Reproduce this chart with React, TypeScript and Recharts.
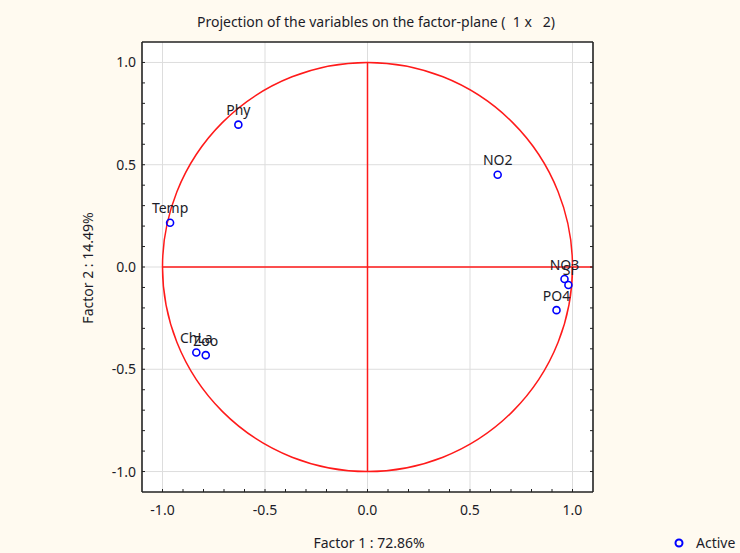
import React from 'react';
import {
  ScatterChart,
  Scatter,
  XAxis,
  YAxis,
  CartesianGrid,
  ReferenceLine,
  ReferenceArea,
  LabelList,
} from 'recharts';

// variable names and their coordinates on the factor plane
const names = ['Phy', 'NO2', 'Temp', 'NO3', 'Si', 'PO4', 'ChLa', 'Zoo'];
const factor1 = [-0.63, 0.635, -0.963, 0.961, 0.98, 0.922, -0.835, -0.789];
const factor2 = [0.696, 0.451, 0.216, -0.059, -0.088, -0.211, -0.418, -0.431];

const axisTicks = [
  -1.0, -0.9, -0.8, -0.7, -0.6, -0.5, -0.4, -0.3, -0.2, -0.1, 0.0,
  0.1, 0.2, 0.3, 0.4, 0.5, 0.6, 0.7, 0.8, 0.9, 1.0,
];
const majorTicks = [-1.0, -0.5, 0.0, 0.5, 1.0];

const points = names.map((name, i) => ({ name, x: factor1[i], y: factor2[i] }));

const FONT = '"Noto Sans", "Open Sans", sans-serif';
const BG = '#fffaf0';
const RED = '#ff1a1a';
const TEXT = '#1c1c28';

const fmtMajor = (v: number) =>
  majorTicks.some((m) => Math.abs(m - v) < 1e-6) ? v.toFixed(1) : '';
const blank = () => '';

const UnitCircle = (props: any) => {
  const { x, y, width, height } = props;
  return (
    <ellipse
      cx={x + width / 2}
      cy={y + height / 2}
      rx={width / 2}
      ry={height / 2}
      fill="none"
      stroke={RED}
      strokeWidth={1.5}
    />
  );
};

const Ring = (props: any) => {
  const { cx, cy } = props;
  return <circle cx={cx} cy={cy} r={3.5} fill="none" stroke="#0000ff" strokeWidth={1.6} />;
};

export default function App() {
  const tickStyle = { fontSize: 14, fill: TEXT, fontFamily: FONT };
  const frame = { stroke: '#222', strokeWidth: 1.6 };
  return (
    <div
      style={{
        position: 'absolute',
        left: 0,
        top: 0,
        width: 740,
        height: 553,
        background: BG,
        fontFamily: FONT,
      }}
    >
      <ScatterChart
        width={740}
        height={553}
        margin={{ top: 37, right: 142, bottom: 21, left: 82 }}
      >
        <CartesianGrid
          stroke="#dddddd"
          horizontalValues={majorTicks}
          verticalValues={majorTicks}
          fill="#ffffff"
        />
        <XAxis
          type="number"
          dataKey="x"
          domain={[-1.1, 1.1]}
          ticks={axisTicks}
          interval={0}
          tickFormatter={fmtMajor}
          tickSize={-3}
          tickMargin={16}
          height={40}
          tick={tickStyle}
          stroke="#222"
          axisLine={frame}
          allowDataOverflow
        />
        <XAxis
          xAxisId="top"
          orientation="top"
          type="number"
          domain={[-1.1, 1.1]}
          ticks={axisTicks}
          interval={0}
          tickFormatter={blank}
          tickSize={-3}
          height={5}
          stroke="#222"
          axisLine={frame}
          allowDataOverflow
        />
        <YAxis
          type="number"
          dataKey="y"
          domain={[-1.1, 1.1]}
          ticks={axisTicks}
          interval={0}
          tickFormatter={fmtMajor}
          tickSize={-3}
          tickMargin={9}
          width={60}
          tick={tickStyle}
          stroke="#222"
          axisLine={frame}
          allowDataOverflow
        />
        <YAxis
          yAxisId="right"
          orientation="right"
          type="number"
          domain={[-1.1, 1.1]}
          ticks={axisTicks}
          interval={0}
          tickFormatter={blank}
          tickSize={-3}
          width={5}
          stroke="#222"
          axisLine={frame}
          allowDataOverflow
        />
        <ReferenceArea x1={-1} x2={1} y1={-1} y2={1} shape={UnitCircle} />
        <ReferenceLine
          segment={[
            { x: -1, y: 0 },
            { x: 1.1, y: 0 },
          ]}
          stroke={RED}
          strokeWidth={1.5}
        />
        <ReferenceLine
          segment={[
            { x: 0, y: -1 },
            { x: 0, y: 1 },
          ]}
          stroke={RED}
          strokeWidth={1.5}
        />
        <Scatter data={points} shape={Ring} isAnimationActive={false}>
          <LabelList
            dataKey="name"
            position="top"
            offset={5}
            style={{ fontSize: 14, fill: TEXT, fontFamily: FONT }}
          />
        </Scatter>
      </ScatterChart>
      <svg
        width={740}
        height={553}
        style={{ position: 'absolute', left: 0, top: 0, pointerEvents: 'none' }}
      >
        <text
          x={376}
          y={27}
          textAnchor="middle"
          fontSize={14}
          fill={TEXT}
          fontFamily={FONT}
          style={{ whiteSpace: 'pre' }}
        >
          {'Projection of the variables on the factor-plane (  1 x   2)'}
        </text>
        <text x={369} y={548} textAnchor="middle" fontSize={14} fill={TEXT} fontFamily={FONT}>
          Factor 1 : 72.86%
        </text>
        <text
          x={0}
          y={0}
          transform="translate(93,268) rotate(-90)"
          textAnchor="middle"
          fontSize={14}
          fill={TEXT}
          fontFamily={FONT}
        >
          Factor 2 : 14.49%
        </text>
        <circle cx={679} cy={543} r={3.5} fill="none" stroke="#0000ff" strokeWidth={2} />
        <text x={696} y={548} fontSize={14} fill={TEXT} fontFamily={FONT}>
          Active
        </text>
      </svg>
    </div>
  );
}
